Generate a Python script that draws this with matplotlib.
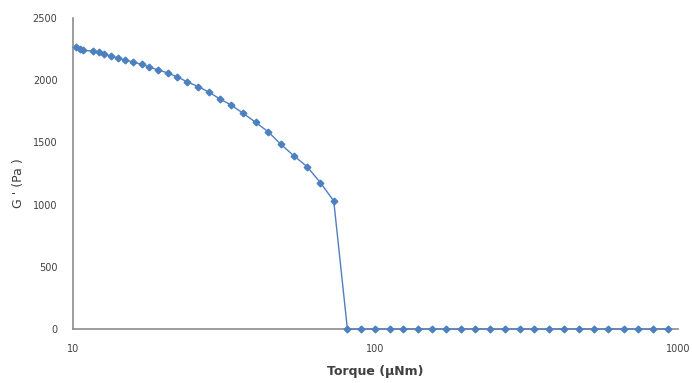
import numpy as np
import matplotlib
matplotlib.use("Agg")
import matplotlib.pyplot as plt
from matplotlib.ticker import FixedLocator, NullLocator, FixedFormatter

# torque (uNm) and storage modulus G' (Pa)
torque = [10.25, 10.57, 10.85, 11.67, 12.21, 12.73, 13.43, 14.11, 14.88, 15.81,
          16.93, 17.93, 19.20, 20.63, 22.18, 23.93, 26.02, 28.24, 30.63, 33.47,
          36.56, 40.18, 44.21, 48.60, 53.74, 59.47, 65.84, 72.84,
          80.8, 89.9, 99.7, 111.5, 123.7, 137.9, 153.8, 171.5, 191.2, 213.8,
          238.9, 267.2, 299.4, 334.8, 374.1, 419.3, 468.8, 525.4, 587.5, 659.9,
          739.6, 828.7, 929.0]
g_prime = [2263, 2251, 2239, 2235, 2223, 2211, 2191, 2179, 2163, 2147,
           2127, 2106, 2082, 2058, 2026, 1986, 1948, 1903, 1849, 1799,
           1734, 1662, 1586, 1487, 1393, 1305, 1176, 1029,
           0, 0, 0, 0, 0, 0, 0, 0, 0, 0,
           0, 0, 0, 0, 0, 0, 0, 0, 0, 0,
           0, 0, 0]

y_ticks = [0, 500, 1000, 1500, 2000, 2500]
x_ticks = [10, 100, 1000]

blue = "#4d80c0"
axis_grey = "#8c8c8c"
text_grey = "#404040"

fig = plt.figure(figsize=(6.92, 3.83), dpi=100)
ax = fig.add_axes([0.105, 0.141, 0.875, 0.812])

ax.plot(torque, g_prime, color=blue, lw=1.0, marker="D", ms=3.4,
        mec=blue, mfc=blue, clip_on=False, zorder=3)

ax.set_xscale("log")
ax.set_xlim(10, 1000)
ax.set_ylim(0, 2500)
ax.xaxis.set_major_locator(FixedLocator(x_ticks))
ax.xaxis.set_major_formatter(FixedFormatter([str(t) for t in x_ticks]))
ax.xaxis.set_minor_locator(NullLocator())
ax.set_yticks(y_ticks)

for s in ["top", "right"]:
    ax.spines[s].set_visible(False)
for s in ["left", "bottom"]:
    ax.spines[s].set_color(axis_grey)
    ax.spines[s].set_linewidth(1.2)

ax.tick_params(axis="both", length=0, labelsize=7, labelcolor=text_grey)
ax.tick_params(axis="x", pad=11)
ax.tick_params(axis="y", pad=11)

ax.set_xlabel("Torque (\u00b5Nm)", fontsize=9, fontweight="bold",
              color=text_grey, labelpad=8)
ax.set_ylabel("G ' (Pa )", fontsize=9, color=text_grey)
ax.yaxis.set_label_coords(-0.078, 0.47)

fig.savefig("out.png", dpi=100)
